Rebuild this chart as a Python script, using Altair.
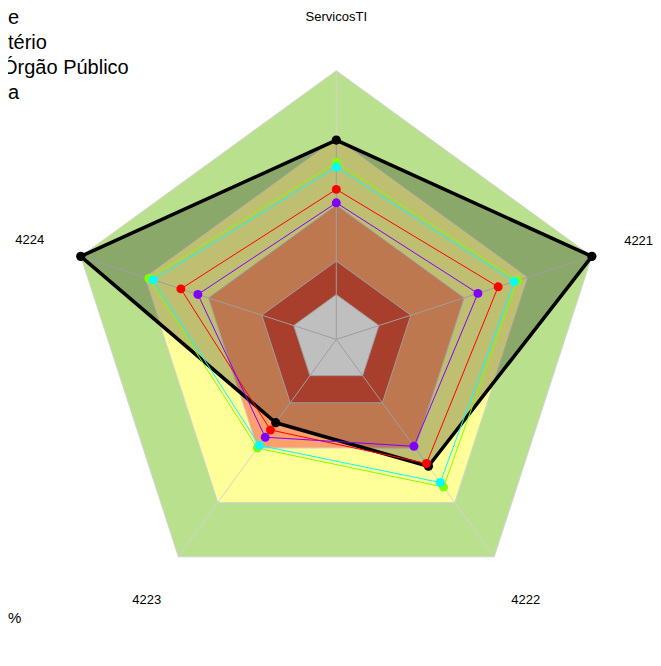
import altair as alt
import pandas as pd

# ---------------- data ----------------
axis_labels = ["ServicosTI", "4221", "4222", "4223", "4224"]
scale_min = -20
scale_max = 100

band_levels = [100, 70, 40, 15, 0]
band_colors = ["#b9e08c", "#ffff99", "#fda06b", "#e0553b", "#ffffff"]

serie_preta = [69, 100, 50, 26, 100]
serie_verde = [59, 65, 61.5, 40, 68]
serie_ciano = [57, 63.5, 59, 38.5, 66]
serie_vermelha = [47, 56, 48.5, 30, 53]
serie_roxa = [41, 46.5, 39, 34, 45]

legend_lines = ["e", "tério", "Órgão Público", "a"]
footer_text = "%"

# ---------------- helpers ----------------
N = len(axis_labels)
span = scale_max - scale_min

W, H = 645, 650
R_PX = 268.7
CX, CY = 328.3, 331.4
x_dom = [-CX / R_PX, (W - CX) / R_PX]
y_dom = [-(H - CY) / R_PX, CY / R_PX]

X = alt.X("x:Q", scale=alt.Scale(domain=x_dom, nice=False, zero=False), axis=None)
Y = alt.Y("y:Q", scale=alt.Scale(domain=y_dom, nice=False, zero=False), axis=None)


def frame(values):
    return pd.DataFrame({"k": list(range(N)), "value": values, "label": axis_labels})


def polar(chart, radius_expr):
    return chart.transform_calculate(
        ang=f"datum.k * 2 * PI / {N}",
        r=radius_expr,
    ).transform_calculate(
        x="datum.r * sin(datum.ang)",
        y="datum.r * cos(datum.ang)",
    )


r_value = f"(datum.value - ({scale_min})) / {span}"

layers = []

# background bands
for lvl, col in zip(band_levels, band_colors):
    base = alt.Chart(frame([lvl] * N))
    layers.append(
        polar(base, r_value)
        .mark_line(interpolate="linear-closed", fill=col, stroke="#d3d3d3", strokeWidth=1)
        .encode(x=X, y=Y, order=alt.Order("k:Q"))
    )

# spokes
spokes = polar(alt.Chart(frame([scale_max] * N)), r_value).mark_rule(
    color="#d3d3d3", strokeWidth=1
).encode(x=X, y=Y, x2=alt.datum(0), y2=alt.datum(0))
layers.append(spokes)

# black series: filled polygon
black_base = polar(alt.Chart(frame(serie_preta)), r_value)
layers.append(
    black_base.mark_line(
        interpolate="linear-closed", fill="#000000", fillOpacity=0.25,
        stroke="#000000", strokeWidth=3.5, strokeJoin="round"
    ).encode(x=X, y=Y, order=alt.Order("k:Q"))
)
layers.append(
    black_base.mark_circle(size=85, color="#000000", opacity=1).encode(x=X, y=Y)
)

# coloured series
for vals, col in [
    (serie_verde, "#80ff00"),
    (serie_ciano, "#00ffff"),
    (serie_vermelha, "#ff0000"),
    (serie_roxa, "#8000ff"),
]:
    b = polar(alt.Chart(frame(vals)), r_value)
    layers.append(
        b.mark_line(interpolate="linear-closed", stroke=col, strokeWidth=1)
        .encode(x=X, y=Y, order=alt.Order("k:Q"))
    )
    layers.append(b.mark_circle(size=80, color=col, opacity=1).encode(x=X, y=Y))

# axis labels
labels = polar(alt.Chart(frame([scale_max] * N)), "datum.k == 1 ? 1.183 : 1.2").mark_text(
    font="Liberation Sans", fontSize=13, color="#000000", align="center", baseline="middle"
).encode(x=X, y=Y, text="label:N")
layers.append(labels)

# legend text (truncated by the left edge in the original)
legend_y = [15.5, 40.5, 66, 91]
legend_x = [0, 0, -6, 0]
for i, t in enumerate(legend_lines):
    d = pd.DataFrame({"t": [t]})
    layers.append(
        alt.Chart(d).mark_text(font="Liberation Sans", fontSize=20, align="left",
                               baseline="alphabetic", color="#000000")
        .encode(x=alt.value(legend_x[i]), y=alt.value(legend_y[i]), text="t:N")
    )

layers.append(
    alt.Chart(pd.DataFrame({"t": [footer_text]})).mark_text(
        font="Liberation Sans", fontSize=15, align="left", baseline="alphabetic", color="#000000"
    ).encode(x=alt.value(0), y=alt.value(615), text="t:N")
)

chart = alt.layer(*layers).properties(
    width=W, height=H,
    autosize=alt.AutoSizeParams(type="none"),
    padding=0,
).configure_view(strokeWidth=0)

chart.save("out.html", embed_options={"renderer": "svg", "actions": False})
